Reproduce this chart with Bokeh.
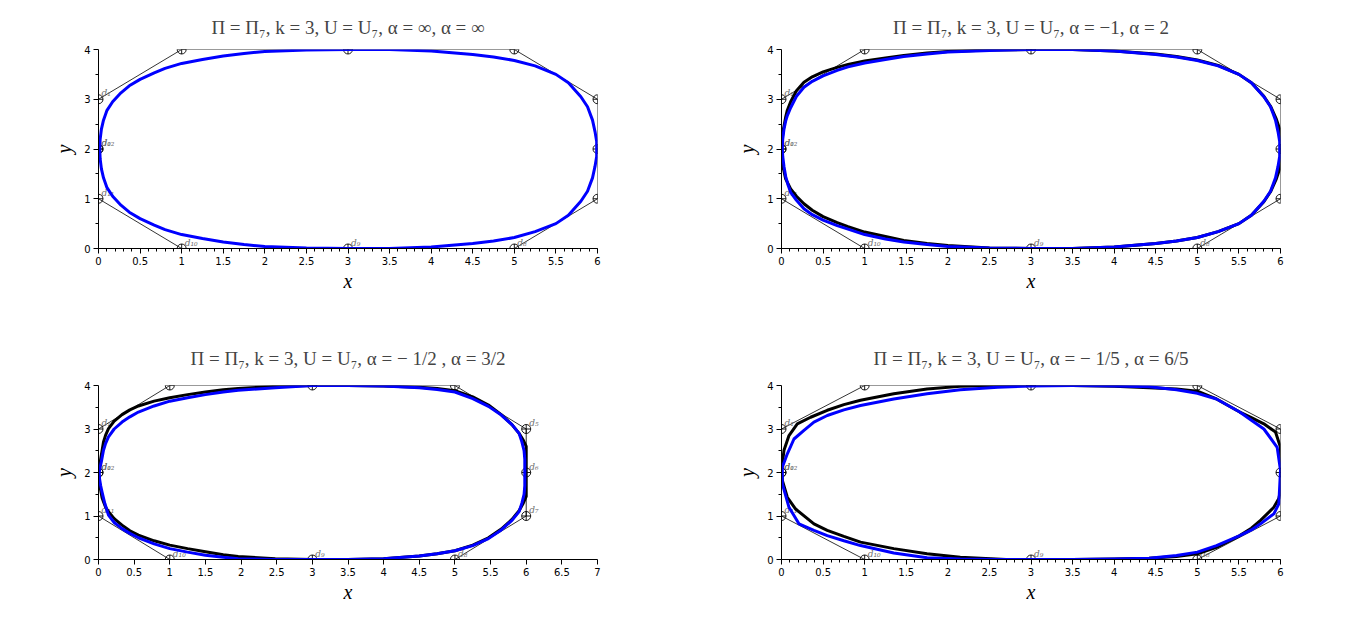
from bokeh.plotting import figure
from bokeh.layouts import column, row
from bokeh.models import Range1d, FixedTicker, NumeralTickFormatter
from bokeh.core.properties import value
from bokeh.embed import file_html
from bokeh.resources import INLINE

# ---------------- data ----------------
# control polygon d0..d12 (d12 = d0)
poly_x = [0, 0, 1, 3, 5, 6, 6, 6, 5, 3, 1, 0, 0]
poly_y = [2, 3, 4, 4, 4, 3, 2, 1, 0, 0, 0, 1, 2]
poly_labels = ["d₀", "d₁", "d₂", "d₃", "d₄", "d₅", "d₆", "d₇", "d₈", "d₉", "d₁₀", "d₁₁", "d₁₂"]

titles = [
    "Π = Π₇, k = 3, U = U₇, α = ∞, α = ∞",
    "Π = Π₇, k = 3, U = U₇, α = −1, α = 2",
    "Π = Π₇, k = 3, U = U₇, α = − 1/2 , α = 3/2",
    "Π = Π₇, k = 3, U = U₇, α = − 1/5 , α = 6/5",
]

x_ticks_6 = [0, 0.5, 1, 1.5, 2, 2.5, 3, 3.5, 4, 4.5, 5, 5.5, 6]
x_ticks_7 = [0, 0.5, 1, 1.5, 2, 2.5, 3, 3.5, 4, 4.5, 5, 5.5, 6, 6.5, 7]
y_ticks = [0, 1, 2, 3, 4]
y_minor = [0.5, 1.5, 2.5, 3.5]

# curves (closed loops, counter-clockwise from top centre)
right_std_x = [3.5, 4.0, 4.5, 4.75, 5.0, 5.25, 5.5, 5.65, 5.8, 5.88, 5.94, 5.97, 5.99,
               5.99, 5.97, 5.94, 5.88, 5.8, 5.65, 5.5, 5.25, 5.0, 4.75, 4.5, 4.0, 3.5, 3.0]
right_std_y = [0.0, 0.03, 0.1, 0.15, 0.22, 0.34, 0.5, 0.67, 0.95, 1.15, 1.42, 1.65, 1.85,
               2.15, 2.35, 2.58, 2.85, 3.05, 3.33, 3.5, 3.67, 3.78, 3.85, 3.9, 3.97, 4.0, 4.0]

c1_blue_x = [3.0, 2.5, 2.0, 1.75, 1.5, 1.25, 1.0, 0.8, 0.67, 0.5, 0.37, 0.27, 0.17, 0.1, 0.06, 0.035, 0.02, 0.015,
             0.02, 0.035, 0.06, 0.1, 0.17, 0.27, 0.37, 0.5, 0.67, 0.8, 1.0, 1.25, 1.5, 1.75, 2.0, 2.5, 3.0] + right_std_x
c1_blue_y = [4.0, 3.99, 3.96, 3.92, 3.87, 3.8, 3.72, 3.62, 3.53, 3.4, 3.27, 3.13, 2.95, 2.77, 2.58, 2.4, 2.2, 2.0,
             1.8, 1.6, 1.42, 1.23, 1.05, 0.87, 0.73, 0.6, 0.47, 0.38, 0.28, 0.2, 0.13, 0.08, 0.04, 0.01, 0.0] + right_std_y

c2_black_x = [3.0, 2.5, 2.0, 1.75, 1.47, 1.25, 1.0, 0.8, 0.67, 0.5, 0.37, 0.27, 0.18, 0.11, 0.07, 0.05, 0.02, 0.005, 0.0,
              0.005, 0.02, 0.05, 0.08, 0.11, 0.18, 0.27, 0.37, 0.5, 0.67, 0.8, 1.0, 1.25, 1.47, 1.75, 2.0, 2.5, 3.0,
              3.5, 4.0, 4.5, 4.75, 5.0, 5.25, 5.5, 5.65, 5.8, 5.88, 5.95, 5.99, 6.0,
              6.0, 5.99, 5.95, 5.88, 5.8, 5.65, 5.5, 5.25, 5.0, 4.75, 4.5, 4.0, 3.5, 3.0]
c2_black_y = [4.0, 3.99, 3.96, 3.93, 3.88, 3.83, 3.77, 3.7, 3.64, 3.55, 3.45, 3.34, 3.17, 2.95, 2.78, 2.64, 2.37, 2.15, 2.0,
              1.85, 1.63, 1.4, 1.3, 1.2, 1.05, 0.9, 0.77, 0.64, 0.52, 0.44, 0.33, 0.24, 0.16, 0.1, 0.06, 0.01, 0.0,
              0.0, 0.03, 0.1, 0.15, 0.22, 0.34, 0.5, 0.67, 0.94, 1.14, 1.4, 1.6, 1.8,
              2.2, 2.4, 2.6, 2.86, 3.06, 3.33, 3.5, 3.68, 3.79, 3.86, 3.91, 3.97, 4.0, 4.0]
c2_blue_x = [3.0, 2.5, 2.0, 1.75, 1.47, 1.25, 1.0, 0.8, 0.67, 0.5, 0.37, 0.27, 0.18, 0.11, 0.07, 0.05, 0.03, 0.015, 0.01,
             0.015, 0.03, 0.05, 0.08, 0.11, 0.18, 0.27, 0.37, 0.5, 0.67, 0.8, 1.0, 1.25, 1.47, 1.75, 2.0, 2.5, 3.0] + right_std_x
c2_blue_y = [4.0, 3.98, 3.95, 3.91, 3.86, 3.8, 3.73, 3.65, 3.58, 3.47, 3.36, 3.24, 3.06, 2.83, 2.67, 2.56, 2.4, 2.2, 2.0,
             1.85, 1.65, 1.45, 1.27, 1.13, 0.97, 0.8, 0.68, 0.57, 0.46, 0.39, 0.28, 0.19, 0.13, 0.08, 0.04, 0.01, 0.0] + right_std_y

c3_black_x = [3.0, 2.48, 1.96, 1.75, 1.5, 1.25, 1.0, 0.78, 0.56, 0.44, 0.33, 0.22, 0.14, 0.1, 0.07, 0.04, 0.015, 0.0,
              0.01, 0.03, 0.05, 0.07, 0.1, 0.14, 0.22, 0.33, 0.44, 0.56, 0.78, 1.0, 1.25, 1.5, 1.75, 1.96, 2.48, 3.0,
              3.5, 4.0, 4.5, 4.75, 5.0, 5.25, 5.47, 5.65, 5.8, 5.9, 5.96, 6.0,
              6.0, 5.96, 5.9, 5.8, 5.65, 5.47, 5.25, 5.0, 4.75, 4.5, 4.0, 3.5, 3.0]
c3_black_y = [4.0, 3.98, 3.93, 3.9, 3.85, 3.79, 3.72, 3.64, 3.53, 3.44, 3.33, 3.18, 3.01, 2.86, 2.7, 2.4, 2.15, 2.0,
              1.8, 1.6, 1.42, 1.33, 1.2, 1.1, 0.94, 0.79, 0.66, 0.56, 0.43, 0.33, 0.25, 0.18, 0.11, 0.07, 0.02, 0.0,
              0.0, 0.02, 0.08, 0.13, 0.2, 0.33, 0.5, 0.7, 0.92, 1.12, 1.3, 1.45,
              2.6, 2.74, 2.9, 3.1, 3.33, 3.55, 3.74, 3.88, 3.93, 3.96, 3.99, 4.0, 4.0]
c3_blue_x = [3.0, 2.48, 1.96, 1.75, 1.5, 1.25, 1.0, 0.78, 0.56, 0.44, 0.33, 0.22, 0.14, 0.1, 0.07, 0.04, 0.02, 0.01,
             0.015, 0.03, 0.05, 0.07, 0.09, 0.14, 0.22, 0.33, 0.44, 0.56, 0.78, 1.0, 1.25, 1.5, 1.75, 1.96, 2.48, 3.0,
             3.5, 4.0, 4.5, 4.75, 5.0, 5.25, 5.47, 5.65, 5.8, 5.9, 5.94, 5.97, 5.98,
             5.98, 5.97, 5.94, 5.9, 5.8, 5.65, 5.47, 5.25, 5.0, 4.75, 4.5, 4.0, 3.5, 3.0]
c3_blue_y = [4.0, 3.95, 3.89, 3.85, 3.79, 3.72, 3.64, 3.53, 3.39, 3.28, 3.16, 3.0, 2.82, 2.67, 2.51, 2.25, 2.1, 2.0,
             1.85, 1.7, 1.55, 1.41, 1.28, 1.02, 0.85, 0.71, 0.6, 0.5, 0.36, 0.25, 0.17, 0.1, 0.05, 0.02, 0.0, 0.0,
             0.0, 0.02, 0.08, 0.13, 0.2, 0.32, 0.48, 0.68, 0.9, 1.1, 1.3, 1.5, 1.7,
             2.3, 2.5, 2.7, 2.9, 3.1, 3.32, 3.52, 3.7, 3.85, 3.91, 3.95, 3.99, 4.0, 4.0]

c4_black_x = [3.0, 2.6, 2.15, 1.75, 1.35, 0.95, 0.75, 0.55, 0.35, 0.19, 0.09, 0.03, 0.0, 0.01, 0.07, 0.17, 0.39, 0.55,
              0.75, 0.95, 1.35, 1.75, 2.15, 2.7, 3.0, 3.5, 4.0, 4.42, 4.75, 5.0, 5.23, 5.51, 5.65, 5.76, 5.92, 5.98, 6.0,
              6.0, 6.0, 5.94, 5.8, 5.65, 5.51, 5.23, 5.0, 4.75, 4.42, 4.0, 3.5, 3.0]
c4_black_y = [4.0, 4.0, 3.98, 3.92, 3.81, 3.66, 3.56, 3.43, 3.27, 3.12, 2.85, 2.51, 2.05, 1.82, 1.43, 1.16, 0.82, 0.67,
              0.53, 0.4, 0.25, 0.13, 0.05, 0.0, 0.0, 0.0, 0.01, 0.03, 0.07, 0.13, 0.28, 0.55, 0.72, 0.9, 1.2, 1.4, 1.59,
              2.35, 2.58, 2.93, 3.12, 3.26, 3.39, 3.69, 3.87, 3.92, 3.95, 3.98, 4.0, 4.0]
c4_blue_x = [3.0, 2.6, 2.15, 1.75, 1.35, 0.95, 0.75, 0.55, 0.39, 0.27, 0.15, 0.07, 0.01, 0.01, 0.09, 0.21, 0.39, 0.55,
             0.75, 0.95, 1.35, 1.75, 2.15, 2.6, 3.0, 3.5, 4.0, 4.42, 4.75, 5.0, 5.23, 5.51, 5.65, 5.76, 5.92, 5.98,
             6.0, 5.96, 5.8, 5.65, 5.51, 5.23, 5.0, 4.75, 4.42, 4.0, 3.5, 3.0]
c4_blue_y = [3.99, 3.96, 3.9, 3.81, 3.69, 3.54, 3.44, 3.31, 3.16, 2.97, 2.77, 2.43, 2.12, 1.74, 1.2, 0.82, 0.67, 0.55,
             0.43, 0.32, 0.15, 0.04, 0.01, 0.0, 0.0, 0.0, 0.01, 0.03, 0.09, 0.17, 0.32, 0.55, 0.68, 0.82, 1.05, 1.28,
             2.05, 2.58, 3.0, 3.2, 3.39, 3.69, 3.82, 3.9, 3.97, 3.99, 4.0, 3.99]

# ---------------- drawing ----------------
SERIF = "Liberation Serif"


def make_panel(title, xmax, xticks, xminor, black, blue, width, height, bl, br, bt, bb, title_standoff):
    p = figure(width=width, height=height, x_range=Range1d(0, xmax), y_range=Range1d(0, 4),
               output_backend="svg", toolbar_location=None,
               min_border_left=bl, min_border_right=br, min_border_top=bt, min_border_bottom=bb)
    p.grid.visible = False
    p.outline_line_color = None
    p.background_fill_color = "white"
    p.border_fill_color = "white"

    p.title.text = title
    p.title.align = "center"
    p.title.text_font = SERIF
    p.title.text_font_size = "19px"
    p.title.text_font_style = "normal"
    p.title.standoff = title_standoff

    p.xaxis.ticker = FixedTicker(ticks=xticks, minor_ticks=xminor)
    p.yaxis.ticker = FixedTicker(ticks=y_ticks, minor_ticks=y_minor)
    for ax in (p.xaxis, p.yaxis):
        ax.formatter = NumeralTickFormatter(format="0.[0]")
        ax.major_tick_in = 0
        ax.major_tick_out = 5
        ax.minor_tick_in = 0
        ax.minor_tick_out = 3
        ax.axis_line_color = "black"
        ax.major_tick_line_color = "black"
        ax.minor_tick_line_color = "black"
        ax.major_label_text_font = "DejaVu Sans"
        ax.major_label_text_font_size = "10px"
        ax.major_label_text_color = "black"
        ax.major_label_standoff = 3
        ax.axis_label_text_font = SERIF
        ax.axis_label_text_font_style = "italic"
        ax.axis_label_text_font_size = "20px"
        ax.axis_label_text_color = "black"
    p.xaxis.axis_label = "x"
    p.yaxis.axis_label = "y"
    p.xaxis.axis_label_standoff = 2
    p.yaxis.axis_label_standoff = 6

    # control polygon
    p.line(poly_x, poly_y, line_color="black", line_width=0.8)
    p.scatter(poly_x, poly_y, marker="circle_cross", size=9, fill_color=None,
              line_color="black", line_width=0.9)
    p.text(poly_x, poly_y, text=poly_labels, text_font=value("DejaVu Serif"),
           text_font_style="italic", text_font_size="9px", text_color="#6e6e6e",
           x_offset=3, y_offset=-1, text_baseline="bottom", text_align="left")

    if black is not None:
        p.line(black[0], black[1], line_color="black", line_width=3, line_join="round")
    p.line(blue[0], blue[1], line_color="#0000ff", line_width=3, line_join="round")
    return p


minor_6 = [i / 10 for i in range(0, 61)]

p1 = make_panel(titles[0], 6, x_ticks_6, minor_6, None, (c1_blue_x, c1_blue_y),
                691, 328, 98, 94, 49, 80, 24)
p2 = make_panel(titles[1], 6, x_ticks_6, minor_6, (c2_black_x, c2_black_y), (c2_blue_x, c2_blue_y),
                659, 328, 90, 70, 49, 80, 24)
p3 = make_panel(titles[2], 7, x_ticks_7, [], (c3_black_x, c3_black_y), (c3_blue_x, c3_blue_y),
                691, 278, 98, 94, 57, 47, 33)
p4 = make_panel(titles[3], 6, x_ticks_6, minor_6, (c4_black_x, c4_black_y), (c4_blue_x, c4_blue_y),
                659, 278, 90, 70, 57, 47, 33)

layout = column(row(p1, p2), row(p3, p4))
open("out.html", "w").write(file_html(layout, INLINE))
